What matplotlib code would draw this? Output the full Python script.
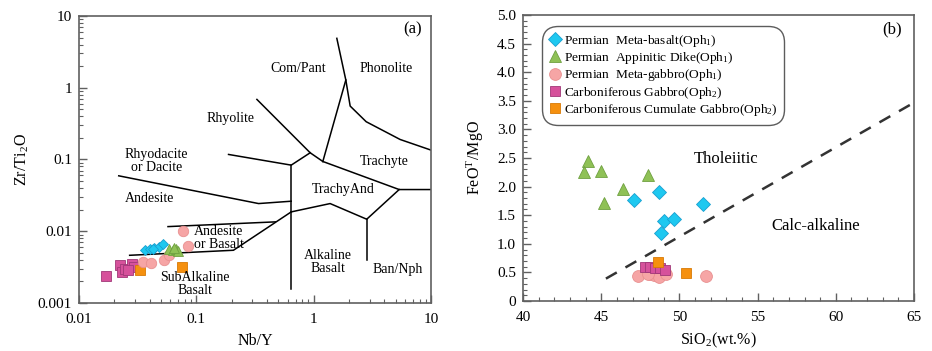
import matplotlib.pyplot as plt
from matplotlib.ticker import FixedLocator, FixedFormatter, LogLocator, MultipleLocator, NullFormatter

plt.rcParams['font.family'] = ['Liberation Serif', 'DejaVu Serif']
plt.rcParams['mathtext.fontset'] = 'stix'

# --- (a) Nb/Y vs Zr/Ti2O ---
mag_nby = [0.0169, 0.0222, 0.0234, 0.0248, 0.0284, 0.0292, 0.026]
mag_zr = [0.00236, 0.00336, 0.00271, 0.00301, 0.00347, 0.00318, 0.0029]
ora_nby = [0.0329, 0.0753]
ora_zr = [0.00292, 0.00318]
pink_nby = [0.0769, 0.0848, 0.0351, 0.0410, 0.0526, 0.0581]
pink_zr = [0.0100, 0.00618, 0.00369, 0.00361, 0.00402, 0.00472]
cyan_nby = [0.0367, 0.0405, 0.0438, 0.0477, 0.0515, 0.0425]
cyan_zr = [0.00554, 0.00573, 0.00591, 0.00604, 0.00659, 0.00560]
green_nby = [0.0581, 0.0627, 0.0675, 0.0697, 0.0650]
green_zr = [0.00573, 0.00554, 0.00573, 0.00532, 0.00590]

# field boundaries (Nb/Y, Zr/Ti2O)
bounds = [
    ([0.0218, 0.339, 0.643], [0.0592, 0.0243, 0.0262]),
    ([0.188, 0.643, 0.933], [0.1175, 0.0834, 0.124]),
    ([0.328, 0.933, 1.196], [0.687, 0.124, 0.0938]),
    ([1.196, 1.878], [0.0938, 1.28]),
    ([1.574, 1.878, 2.045, 2.80, 5.45, 10], [4.88, 1.28, 0.555, 0.336, 0.190, 0.135]),
    ([1.196, 5.35, 10], [0.0938, 0.0381, 0.0381]),
    ([0.643, 0.643], [0.0834, 0.00158]),
    ([0.643, 1.38, 2.83, 5.35], [0.0186, 0.0243, 0.0147, 0.0381]),
    ([2.83, 2.83], [0.0147, 0.00394]),
    ([0.027, 0.207, 0.643], [0.00462, 0.00543, 0.0186]),
    ([0.0573, 0.470], [0.0116, 0.0135]),
]
field_labels = [
    ('Com/Pant', 0.733, 1.86),
    ('Phonolite', 4.14, 1.86),
    ('Rhyolite', 0.197, 0.373),
    ('Rhyodacite\nor Dacite', 0.0456, 0.0948),
    ('Trachyte', 3.98, 0.0948),
    ('TrachyAnd', 1.79, 0.038),
    ('Andesite', 0.040, 0.0282),
    ('Andesite\nor Basalt', 0.155, 0.00807),
    ('Alkaline\nBasalt', 1.32, 0.00373),
    ('Ban/Nph', 5.20, 0.00292),
    ('SubAlkaline\nBasalt', 0.0966, 0.00182),
]

# --- (b) SiO2 vs FeOT/MgO ---
cyan_si = [47.11, 48.72, 51.49, 49.02, 49.64, 48.85]
cyan_fm = [1.76, 1.90, 1.69, 1.40, 1.43, 1.19]
green_si = [44.13, 43.87, 44.98, 46.36, 45.15, 48.02]
green_fm = [2.44, 2.26, 2.27, 1.95, 1.72, 2.20]
pink_si = [47.32, 48.13, 48.40, 48.72, 49.15, 51.68, 48.0]
pink_fm = [0.44, 0.48, 0.45, 0.42, 0.48, 0.44, 0.47]
mag_si = [47.80, 48.12, 48.44, 48.76, 49.08]
mag_fm = [0.60, 0.59, 0.58, 0.57, 0.55]
ora_si = [48.66, 50.40]
ora_fm = [0.69, 0.49]
miyashiro_si = [45.3, 65]

CYAN, CYAN_E = '#1ec8f0', '#1a9fd0'
GREEN, GREEN_E = '#8fc156', '#6fa040'
PINK, PINK_E = '#f6a5a5', '#e89090'
MAG, MAG_E = '#d6519b', '#a03878'
ORA, ORA_E = '#f5900f', '#d87a05'
SPINE = '#606060'

fig = plt.figure(figsize=(9.32, 3.51), dpi=100)
ax1 = fig.add_axes([0.0848, 0.1368, 0.3777, 0.8177])
ax2 = fig.add_axes([0.5612, 0.1425, 0.4195, 0.8148])

for ax in (ax1, ax2):
    for s in ax.spines.values():
        s.set_color(SPINE)
        s.set_linewidth(1.2)
    ax.tick_params(which='both', direction='in', color=SPINE, labelsize=11,
                   top=False, right=False)
    ax.tick_params(which='major', length=6, width=1)
    ax.tick_params(which='minor', length=3, width=0.8)
    ax.tick_params(axis='x', which='major', pad=7)
    ax.tick_params(axis='y', which='major', pad=5)

# panel (a)
ax1.set_xscale('log')
ax1.set_yscale('log')
ax1.set_xlim(0.01, 10)
ax1.set_ylim(0.001, 10)
for xs, ys in bounds:
    ax1.plot(xs, ys, color='black', lw=1.1)
for txt, x, y in field_labels:
    ax1.text(x, y, txt, ha='center', va='center', fontsize=10, linespacing=1.0)
ax1.text(6.9, 6.4, '(a)', ha='center', va='center', fontsize=12)

ax1.plot(mag_nby, mag_zr, 's', ms=6.5, mfc=MAG, mec=MAG_E, mew=0.6, ls='none')
ax1.plot(ora_nby, ora_zr, 's', ms=6.5, mfc=ORA, mec=ORA_E, mew=0.6, ls='none')
ax1.plot(pink_nby, pink_zr, 'o', ms=7.5, mfc=PINK, mec=PINK_E, mew=0.6, ls='none')
ax1.plot(cyan_nby, cyan_zr, 'D', ms=5.5, mfc=CYAN, mec=CYAN_E, mew=0.6, ls='none')
ax1.plot(green_nby, green_zr, '^', ms=7, mfc=GREEN, mec=GREEN_E, mew=0.6, ls='none')

ax1.xaxis.set_major_locator(FixedLocator([0.01, 0.1, 1, 10]))
ax1.xaxis.set_major_formatter(FixedFormatter(['0.01', '0.1', '1', '10']))
ax1.yaxis.set_major_locator(FixedLocator([0.001, 0.01, 0.1, 1, 10]))
ax1.yaxis.set_major_formatter(FixedFormatter(['0.001', '0.01', '0.1', '1', '10']))
for axis in (ax1.xaxis, ax1.yaxis):
    axis.set_minor_locator(LogLocator(base=10, subs=range(2, 10)))
    axis.set_minor_formatter(NullFormatter())
ax1.set_xlabel('Nb/Y', fontsize=11.5, labelpad=5)
ax1.set_ylabel(r'Zr/Ti$_\mathregular{2}$O', fontsize=11.5, labelpad=5)

# panel (b)
ax2.set_xlim(40, 65)
ax2.set_ylim(0, 5)
ax2.plot(miyashiro_si, [0.1562 * x - 6.685 for x in miyashiro_si],
         color='#333333', lw=1.8, dashes=(5, 4))
ax2.plot(green_si, green_fm, '^', ms=8.5, mfc=GREEN, mec=GREEN_E, mew=0.6, ls='none',
         label=r'Permian  Appinitic Dike(Oph$\mathregular{_1}$)')
ax2.plot(cyan_si, cyan_fm, 'D', ms=7.2, mfc=CYAN, mec=CYAN_E, mew=0.6, ls='none',
         label=r'Permian  Meta-basalt(Oph$\mathregular{_1}$)')
ax2.plot(pink_si, pink_fm, 'o', ms=8.5, mfc=PINK, mec=PINK_E, mew=0.6, ls='none',
         label=r'Permian  Meta-gabbro(Oph$\mathregular{_1}$)')
ax2.plot(mag_si, mag_fm, 's', ms=6.5, mfc=MAG, mec=MAG_E, mew=0.6, ls='none',
         label=r'Carboniferous Gabbro(Oph$\mathregular{_2}$)')
ax2.plot(ora_si, ora_fm, 's', ms=7, mfc=ORA, mec=ORA_E, mew=0.6, ls='none',
         label=r'Carboniferous Cumulate Gabbro(Oph$\mathregular{_2}$)')

ax2.text(53.0, 2.49, 'Tholeiitic', ha='center', va='center', fontsize=12)
ax2.text(58.7, 1.31, 'Calc-alkaline', ha='center', va='center', fontsize=12)
ax2.text(63.6, 4.74, '(b)', ha='center', va='center', fontsize=12)

ax2.xaxis.set_major_locator(MultipleLocator(5))
ax2.xaxis.set_minor_locator(MultipleLocator(1))
ax2.yaxis.set_minor_locator(MultipleLocator(0.1))
ax2.set_yticks([0, 0.5, 1, 1.5, 2, 2.5, 3, 3.5, 4, 4.5, 5])
ax2.set_yticklabels(['0', '0.5', '1.0', '1.5', '2.0', '2.5', '3.0', '3.5', '4.0', '4.5', '5.0'])
ax2.set_xlabel(r'SiO$_\mathregular{2}$(wt.%)', fontsize=11.5, labelpad=5)
ax2.set_ylabel(r'FeO$^\mathregular{T}$/MgO', fontsize=11.5, labelpad=8)

handles, labels = ax2.get_legend_handles_labels()
order = [1, 0, 2, 3, 4]
leg = ax2.legend([handles[i] for i in order], [labels[i] for i in order],
                 loc='upper left', bbox_to_anchor=(0.048, 0.962), fontsize=9.6,
                 frameon=True, handlelength=1.0, handletextpad=0.15,
                 borderpad=0.5, labelspacing=0.1, borderaxespad=0.0)
frame = leg.get_frame()
frame.set_boxstyle('round', pad=0.0, rounding_size=1.2)
frame.set_edgecolor('#333333')
frame.set_linewidth(1.0)

fig.savefig('out.png', dpi=100)
